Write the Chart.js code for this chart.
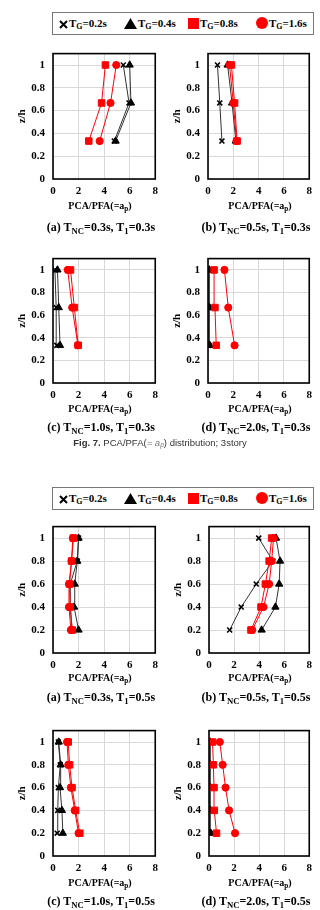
<!DOCTYPE html>
<html lang="en">
<head>
<meta charset="UTF-8">
<title>PCA/PFA distribution</title>
<script src="https://cdn.jsdelivr.net/npm/chart.js"></script>
<style>
  body { margin: 0; width: 320px; height: 910px; background: #fff; position: relative; overflow: hidden; }
  .box { position: absolute; }
  .txt { position: absolute; text-align: center; white-space: nowrap; font-family: 'Liberation Serif', 'Times New Roman', serif; font-weight: bold; color: #000; }
  .txt sub, .leg sub { font-size: 0.72em; vertical-align: -0.3em; line-height: 0; }
  .legend { position: absolute; border: 1px solid #777; box-sizing: border-box; background: #fff; }
  .leg { position: absolute; top: 3px; font-family: 'Liberation Serif', 'Times New Roman', serif; font-weight: bold; font-size: 11px; line-height: 15px; white-space: nowrap; }
  .leg svg { vertical-align: -2px; margin-right: 1px; }
  .figcap { position: absolute; left: 0; width: 320px; text-align: center; font-family: 'Liberation Sans', Arial, sans-serif; font-size: 9.5px; line-height: 12px; color: #333; }
  .figcap sub { font-size: 0.7em; vertical-align: -0.15em; line-height: 0; }
</style>
</head>
<body>
<script>
  // z/h levels
  const zh3 = [0.333, 0.667, 1];
  const zh5 = [0.2, 0.4, 0.6, 0.8, 1];
  const tgNames = ['TG=0.2s', 'TG=0.4s', 'TG=0.8s', 'TG=1.6s'];
  const xTickVals = [0, 2, 4, 6, 8];
  const yTickVals = [0, 0.2, 0.4, 0.6, 0.8, 1];

  // PCA/PFA values, bottom -> top, order TG 0.2 / 0.4 / 0.8 / 1.6
  const fig7a = [[4.8, 5.95, 5.5], [4.9, 6.1, 6.0], [2.8, 3.8, 4.1], [3.65, 4.5, 4.95]];
  const fig7b = [[1.1, 0.93, 0.75], [2.2, 1.9, 1.55], [2.3, 2.1, 1.85], [2.25, 2.0, 1.7]];
  const fig7c = [[0.3, 0.25, 0.15], [0.55, 0.45, 0.35], [1.97, 1.67, 1.37], [1.95, 1.5, 1.15]];
  const fig7d = [[0.05, 0.05, 0.05], [0.15, 0.12, 0.1], [0.65, 0.55, 0.48], [2.1, 1.6, 1.3]];
  const fig8a = [[1.5, 1.35, 1.35, 1.9, 2.0], [2.0, 1.65, 1.7, 1.9, 2.0], [1.5, 1.35, 1.3, 1.45, 1.6], [1.4, 1.25, 1.25, 1.45, 1.55]];
  const fig8b = [[1.65, 2.57, 3.77, 5.1, 3.97], [4.2, 5.3, 5.6, 5.67, 5.35], [3.35, 4.15, 4.5, 4.8, 5.0], [3.45, 4.35, 4.8, 5.0, 5.15]];
  const fig8c = [[0.33, 0.37, 0.42, 0.57, 0.42], [0.77, 0.7, 0.55, 0.6, 0.45], [2.1, 1.77, 1.49, 1.3, 1.19], [2.0, 1.7, 1.4, 1.2, 1.1]];
  const fig8d = [[0.05, 0.05, 0.05, 0.05, 0.05], [0.15, 0.12, 0.1, 0.1, 0.1], [0.6, 0.42, 0.4, 0.35, 0.28], [2.08, 1.6, 1.32, 1.09, 0.86]];

  const serif = "'Liberation Serif', 'Times New Roman', serif";

  const seriesStyle = [
    { pointStyle: 'crossRot', pointRadius: 3.5, pointBorderWidth: 1.6, color: '#000', line: '#333', order: 3 },
    { pointStyle: 'triangle', pointRadius: 4.2, pointBorderWidth: 1, color: '#000', line: '#333', order: 2 },
    { pointStyle: 'rect', pointRadius: 4.6, pointBorderWidth: 1, color: '#ff0000', line: '#ff0000', order: 0 },
    { pointStyle: 'circle', pointRadius: 3.6, pointBorderWidth: 1, color: '#ff0000', line: '#ff0000', order: 1 }
  ];

  // frame around the plot area
  const framePlugin = {
    id: 'frame',
    afterDraw(chart) {
      const a = chart.chartArea, c = chart.ctx;
      c.save();
      c.strokeStyle = '#000';
      c.lineWidth = 1.6;
      c.strokeRect(a.left, a.top, a.right - a.left, a.bottom - a.top);
      c.restore();
    }
  };

  function makePlot(vals, zh, left, top, right, bottom) {
    const div = document.createElement('div');
    div.className = 'box';
    const L = left - 40, T = top - 4;
    div.style.left = L + 'px';
    div.style.top = T + 'px';
    div.style.width = (right + 4 - L) + 'px';
    div.style.height = (bottom + 20 - T) + 'px';
    const cv = document.createElement('canvas');
    div.appendChild(cv);
    document.body.appendChild(div);

    const datasets = vals.map((arr, i) => {
      const s = seriesStyle[i];
      return {
        label: tgNames[i],
        data: arr.map((v, k) => ({ x: v, y: zh[k] })),
        showLine: true,
        borderColor: s.line,
        borderWidth: 1,
        pointStyle: s.pointStyle,
        pointRadius: s.pointRadius,
        pointBorderWidth: s.pointBorderWidth,
        pointBackgroundColor: s.color,
        pointBorderColor: s.color,
        order: s.order
      };
    });

    new Chart(cv, {
      type: 'scatter',
      data: { datasets },
      options: {
        responsive: true,
        maintainAspectRatio: false,
        animation: false,
        layout: { padding: { top: 4, right: 4, left: 0, bottom: 0 } },
        plugins: { legend: { display: false }, tooltip: { enabled: false } },
        scales: {
          x: {
            type: 'linear', min: 0, max: 8,
            afterBuildTicks: s => { s.ticks = xTickVals.map(v => ({ value: v })); },
            afterFit: s => { s.height = 20; },
            grid: { color: '#d9d9d9', drawTicks: false },
            border: { display: false },
            ticks: { padding: 6, color: '#000', font: { family: serif, size: 11, weight: 'bold' } }
          },
          y: {
            type: 'linear', min: 0, max: 1.1,
            afterBuildTicks: s => { s.ticks = yTickVals.map(v => ({ value: v })); },
            afterFit: s => { s.width = 40; },
            grid: { color: '#d9d9d9', drawTicks: false },
            border: { display: false },
            ticks: {
              padding: 8, color: '#000', font: { family: serif, size: 11, weight: 'bold' },
              callback: v => String(+v.toFixed(1))
            },
            title: { display: true, text: 'z/h', color: '#000', padding: { top: 3, bottom: 0 }, font: { family: serif, size: 11, weight: 'bold' } }
          }
        }
      },
      plugins: [framePlugin]
    });
  }

  function addText(html, cx, cy, size) {
    const d = document.createElement('div');
    d.className = 'txt';
    d.style.left = (cx - 100) + 'px';
    d.style.width = '200px';
    d.style.top = (cy - 8) + 'px';
    d.style.lineHeight = '16px';
    d.style.fontSize = size + 'px';
    d.innerHTML = html;
    document.body.appendChild(d);
  }

  const symX = '<svg width="9" height="9"><path d="M1 1L8 8M8 1L1 8" stroke="#000" stroke-width="2"/></svg>';
  const symTri = '<svg width="13" height="11"><path d="M6.5 0L13 11H0Z" fill="#000"/></svg>';
  const symSq = '<svg width="11" height="11"><rect width="11" height="11" fill="#ff0000"/></svg>';
  const symCi = '<svg width="12" height="12"><circle cx="6" cy="6" r="6" fill="#ff0000"/></svg>';

  function addLegend(top) {
    const box = document.createElement('div');
    box.className = 'legend';
    box.style.left = '52px';
    box.style.top = top + 'px';
    box.style.width = '262px';
    box.style.height = '23px';
    const items = [[symX, '0.2s', 6], [symTri, '0.4s', 71], [symSq, '0.8s', 135], [symCi, '1.6s', 203]];
    items.forEach(it => {
      const s = document.createElement('span');
      s.className = 'leg';
      s.style.left = it[2] + 'px';
      s.innerHTML = it[0] + 'T<sub>G</sub>=' + it[1];
      box.appendChild(s);
    });
    document.body.appendChild(box);
  }

  const axisTitle = 'PCA/PFA(=a<sub>p</sub>)';

  // Fig. 7 (3 story)
  addLegend(12);
  makePlot(fig7a, zh3, 53, 43, 160, 179);
  makePlot(fig7b, zh3, 208, 43, 314, 179);
  makePlot(fig7c, zh3, 53, 248, 160, 383);
  makePlot(fig7d, zh3, 208, 248, 314, 383);
  addText(axisTitle, 100, 206, 10);
  addText(axisTitle, 260, 206, 10);
  addText('(a) T<sub>NC</sub>=0.3s, T<sub>1</sub>=0.3s', 101, 227, 12);
  addText('(b) T<sub>NC</sub>=0.5s, T<sub>1</sub>=0.3s', 256, 227, 12);
  addText(axisTitle, 100, 409, 10);
  addText(axisTitle, 260, 409, 10);
  addText('(c) T<sub>NC</sub>=1.0s, T<sub>1</sub>=0.3s', 101, 427, 12);
  addText('(d) T<sub>NC</sub>=2.0s, T<sub>1</sub>=0.3s', 256, 427, 12);

  const cap = document.createElement('div');
  cap.className = 'figcap';
  cap.style.top = '437px';
  cap.innerHTML = '<b>Fig. 7.</b> PCA/PFA(<i style="color:#777">= a<sub>p</sub></i>) distribution; 3story';
  document.body.appendChild(cap);

  // Fig. 8 (5 story)
  addLegend(487);
  makePlot(fig8a, zh5, 53, 516, 160, 653);
  makePlot(fig8b, zh5, 209, 516, 314, 653);
  makePlot(fig8c, zh5, 53, 720, 160, 856);
  makePlot(fig8d, zh5, 209, 720, 314, 856);
  addText(axisTitle, 100, 678, 10);
  addText(axisTitle, 260, 678, 10);
  addText('(a) T<sub>NC</sub>=0.3s, T<sub>1</sub>=0.5s', 101, 697, 12);
  addText('(b) T<sub>NC</sub>=0.5s, T<sub>1</sub>=0.5s', 256, 697, 12);
  addText(axisTitle, 100, 883, 10);
  addText(axisTitle, 260, 883, 10);
  addText('(c) T<sub>NC</sub>=1.0s, T<sub>1</sub>=0.5s', 101, 901, 12);
  addText('(d) T<sub>NC</sub>=2.0s, T<sub>1</sub>=0.5s', 256, 901, 12);
</script>
</body>
</html>
